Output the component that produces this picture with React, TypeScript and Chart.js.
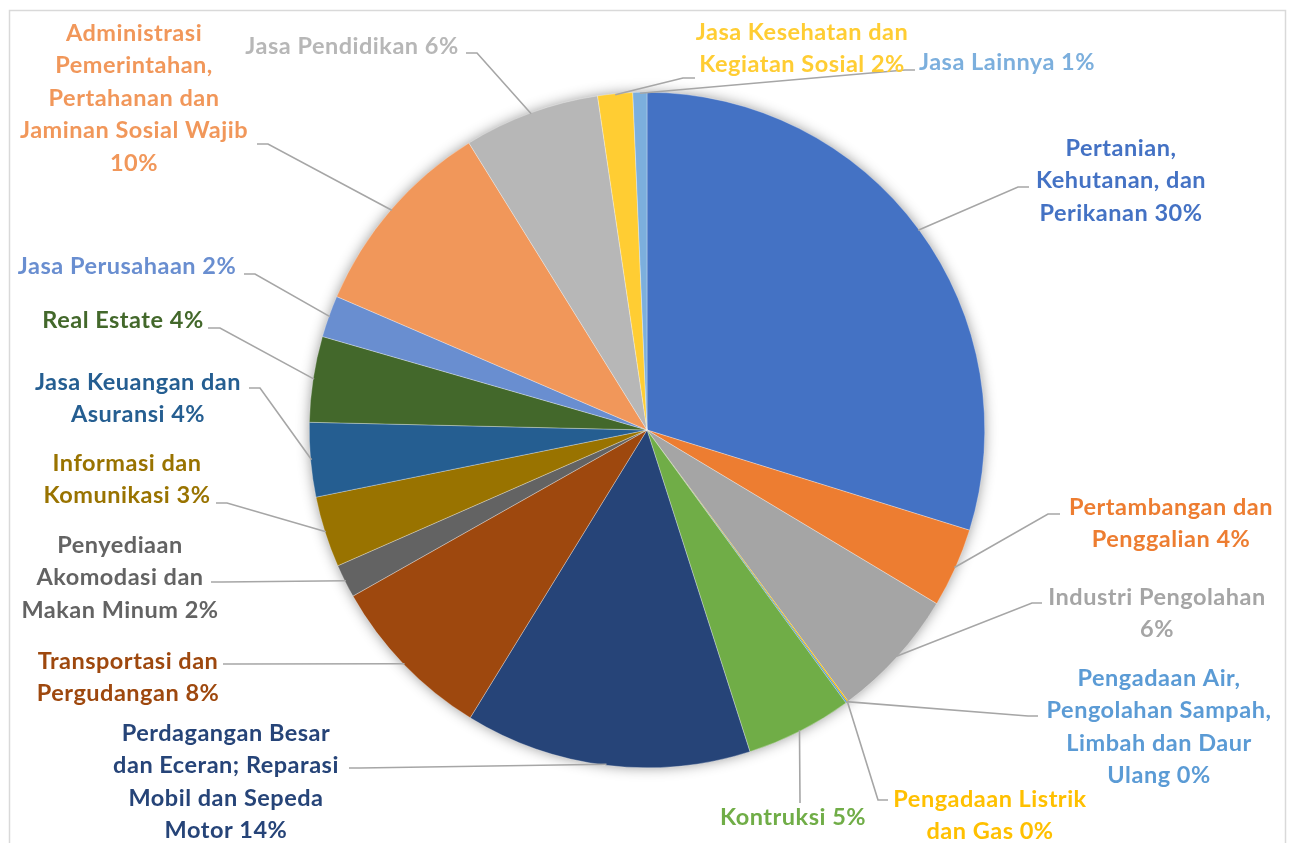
import React, { useEffect, useRef } from "react";
import { Chart, registerables } from "chart.js";

Chart.register(...registerables);

// ---- Data ----
const categories = [
  "Pertanian, Kehutanan, dan Perikanan",
  "Pertambangan dan Penggalian",
  "Industri Pengolahan",
  "Pengadaan Listrik dan Gas",
  "Pengadaan Air, Pengolahan Sampah, Limbah dan Daur Ulang",
  "Kontruksi",
  "Perdagangan Besar dan Eceran; Reparasi Mobil dan Sepeda Motor",
  "Transportasi dan Pergudangan",
  "Penyediaan Akomodasi dan Makan Minum",
  "Informasi dan Komunikasi",
  "Jasa Keuangan dan Asuransi",
  "Real Estate",
  "Jasa Perusahaan",
  "Administrasi Pemerintahan, Pertahanan dan Jaminan Sosial Wajib",
  "Jasa Pendidikan",
  "Jasa Kesehatan dan Kegiatan Sosial",
  "Jasa Lainnya",
];

const values = [
  29.8, 3.8, 6.25, 0.06, 0.07, 5.1, 13.7, 8.05, 1.6, 3.4, 3.55, 4.1, 2.0, 9.7,
  6.5, 1.67, 0.67,
];

const percentLabels = [
  "30%", "4%", "6%", "0%", "0%", "5%", "14%", "8%", "2%", "3%", "4%", "4%",
  "2%", "10%", "6%", "2%", "1%",
];

// label text split into lines (as displayed)
const labelLines = [
  ["Pertanian,", "Kehutanan, dan", "Perikanan 30%"],
  ["Pertambangan dan", "Penggalian 4%"],
  ["Industri Pengolahan", "6%"],
  ["Pengadaan Listrik", "dan Gas 0%"],
  ["Pengadaan Air,", "Pengolahan Sampah,", "Limbah dan Daur", "Ulang 0%"],
  ["Kontruksi 5%"],
  ["Perdagangan Besar", "dan Eceran; Reparasi", "Mobil dan Sepeda", "Motor 14%"],
  ["Transportasi dan", "Pergudangan 8%"],
  ["Penyediaan", "Akomodasi dan", "Makan Minum 2%"],
  ["Informasi dan", "Komunikasi 3%"],
  ["Jasa Keuangan dan", "Asuransi 4%"],
  ["Real Estate 4%"],
  ["Jasa Perusahaan 2%"],
  ["Administrasi", "Pemerintahan,", "Pertahanan dan", "Jaminan Sosial Wajib", "10%"],
  ["Jasa Pendidikan 6%"],
  ["Jasa Kesehatan dan", "Kegiatan Sosial 2%"],
  ["Jasa Lainnya 1%"],
];

// ---- Styles ----
const sliceColors = [
  "#4472C4", "#ED7D31", "#A5A5A5", "#FFC000", "#5B9BD5", "#70AD47",
  "#264478", "#9E480E", "#636363", "#997300", "#255E91", "#43682B",
  "#698ED0", "#F1975A", "#B7B7B7", "#FFCD33", "#7CAFDD",
];

const sliceBorderWidths = [
  0.5, 0.5, 0.5, 0, 0, 0.5, 0.5, 0.5, 0.5, 0.5, 0.5, 0.5, 0.5, 0.5, 0.5, 0.5, 0.5,
];

// label placement (center x, first line y, elbow point, end point of leader)
const labelLayout: { cx: number; y: number; elbow: [number, number]; end: [number, number] }[] = [
  { cx: 1121, y: 148, elbow: [1018, 187], end: [1029, 187] },
  { cx: 1171, y: 507, elbow: [1048, 514], end: [1060, 514] },
  { cx: 1157, y: 597, elbow: [1032, 603], end: [1042, 603] },
  { cx: 990, y: 799, elbow: [878, 800], end: [888, 800] },
  { cx: 1159, y: 678, elbow: [1028, 716], end: [1038, 716] },
  { cx: 793, y: 817, elbow: [800, 800], end: [800, 803] },
  { cx: 226, y: 733, elbow: [360, 768], end: [349, 768] },
  { cx: 128, y: 661, elbow: [233, 664], end: [223, 664] },
  { cx: 120, y: 545, elbow: [222, 582], end: [211, 582] },
  { cx: 127, y: 463, elbow: [227, 503], end: [216, 503] },
  { cx: 138, y: 382, elbow: [260, 388], end: [249, 388] },
  { cx: 123, y: 320, elbow: [220, 328], end: [208, 328] },
  { cx: 127, y: 266, elbow: [255, 274], end: [244, 274] },
  { cx: 134, y: 33, elbow: [268, 144], end: [257, 144] },
  { cx: 352, y: 46, elbow: [477, 53], end: [466, 53] },
  { cx: 802, y: 32, elbow: [683, 78], end: [695, 78] },
  { cx: 1007, y: 62, elbow: [905, 70], end: [915, 70] },
];

const LINE_HEIGHT = 32.5;
const FONT = "bold 23.5px Lato, 'Open Sans', sans-serif";

const calloutPlugin = {
  id: "callouts",
  beforeDraw(chart: any) {
    const ctx = chart.ctx;
    ctx.save();
    ctx.fillStyle = "#ffffff";
    ctx.fillRect(0, 0, chart.width, chart.height);
    ctx.strokeStyle = "#D9D9D9";
    ctx.lineWidth = 1.5;
    ctx.strokeRect(9.5, 10.5, 1276, 900);
    ctx.restore();
  },
  beforeDatasetsDraw(chart: any) {
    const meta = chart.getDatasetMeta(0);
    const arc = meta.data[0];
    if (!arc) return;
    const ctx = chart.ctx;
    ctx.save();
    ctx.shadowColor = "rgba(0,0,0,0.45)";
    ctx.shadowBlur = 14;
    ctx.fillStyle = "#ffffff";
    ctx.beginPath();
    ctx.arc(arc.x, arc.y, arc.outerRadius - 1, 0, Math.PI * 2);
    ctx.fill();
    ctx.restore();
  },
  afterDraw(chart: any) {
    const ctx = chart.ctx;
    const meta = chart.getDatasetMeta(0);
    ctx.save();
    // leader lines
    meta.data.forEach((el: any, i: number) => {
      const lay = labelLayout[i];
      const mid = (el.startAngle + el.endAngle) / 2;
      const r = el.outerRadius - 1;
      const ax = el.x + Math.cos(mid) * r;
      const ay = el.y + Math.sin(mid) * r;
      ctx.strokeStyle = "#A6A6A6";
      ctx.lineWidth = 1.6;
      ctx.beginPath();
      ctx.moveTo(ax, ay);
      ctx.lineTo(lay.elbow[0], lay.elbow[1]);
      ctx.lineTo(lay.end[0], lay.end[1]);
      ctx.stroke();
    });
    // labels
    ctx.font = FONT;
    try {
      (ctx as any).letterSpacing = "0.5px";
    } catch (e) {}
    ctx.textAlign = "center";
    ctx.textBaseline = "middle";
    labelLines.forEach((lines, i) => {
      const lay = labelLayout[i];
      ctx.fillStyle = sliceColors[i];
      lines.forEach((t, k) => {
        ctx.fillText(t, lay.cx, lay.y + k * LINE_HEIGHT);
      });
    });
    ctx.restore();
  },
};

export default function App() {
  const canvasRef = useRef<HTMLCanvasElement | null>(null);

  useEffect(() => {
    if (!canvasRef.current) return;
    const chart = new Chart(canvasRef.current, {
      type: "pie",
      data: {
        labels: categories,
        datasets: [
          {
            data: values,
            backgroundColor: sliceColors,
            borderColor: "rgba(255,255,255,0.6)",
            borderWidth: sliceBorderWidths,
          },
        ],
      },
      options: {
        responsive: false,
        animation: false,
        layout: { padding: { top: 92, bottom: 75, left: 309, right: 304 } },
        plugins: {
          legend: { display: false },
          tooltip: { enabled: false },
        },
      },
      plugins: [calloutPlugin],
    });
    return () => chart.destroy();
  }, []);

  return (
    <div style={{ position: "absolute", left: 0, top: 0, width: 1289, height: 843 }}>
      <canvas ref={canvasRef} width={1289} height={843} style={{ display: "block" }} />
    </div>
  );
}
